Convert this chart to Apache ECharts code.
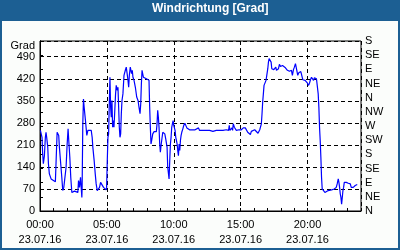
<!DOCTYPE html>
<html>
<head>
<meta charset="utf-8">
<script src="https://cdn.jsdelivr.net/npm/echarts@6/dist/echarts.min.js"></script>
<style>
  html, body { margin: 0; padding: 0; background: #fbfdfb; }
  #chart { width: 400px; height: 250px; }
</style>
</head>
<body>
<div id="chart"></div>
<script>
// Time of day in hours (23.07.16)
const hours = [
  0.03,0.1,0.15,0.2,0.25,0.33,0.4,0.45,0.5,0.58,0.63,0.7,0.83,0.95,1.15,1.2,1.28,1.35,1.4,1.45,
  1.53,1.63,1.7,1.78,1.85,1.95,2.03,2.1,2.15,2.23,2.3,2.38,2.45,2.58,2.7,2.83,2.88,2.95,3.03,3.08,
  3.13,3.15,3.2,3.25,3.3,3.35,3.4,3.5,3.58,3.7,3.83,3.9,3.95,4.05,4.13,4.2,4.28,4.38,4.45,4.53,
  4.63,4.75,4.85,4.95,4.98,5.03,5.08,5.13,5.18,5.23,5.28,5.33,5.38,5.43,5.48,5.53,5.58,5.65,5.7,5.78,
  5.83,5.88,5.93,5.98,6.03,6.08,6.13,6.2,6.28,6.33,6.38,6.45,6.5,6.58,6.63,6.68,6.75,6.8,6.85,6.9,
  6.95,7.03,7.13,7.23,7.33,7.4,7.48,7.53,7.58,7.63,7.68,7.73,7.8,7.95,8.08,8.15,8.2,8.25,8.3,8.35,
  8.43,8.53,8.63,8.7,8.75,8.8,8.85,8.9,8.95,9.0,9.05,9.1,9.18,9.25,9.33,9.4,9.45,9.5,9.55,9.6,
  9.65,9.7,9.75,9.8,9.85,9.9,9.95,10.0,10.05,10.1,10.15,10.2,10.25,10.3,10.35,10.4,10.45,10.5,10.55,10.6,
  10.68,10.75,10.83,10.9,10.98,11.08,11.18,11.28,11.38,11.48,11.6,11.73,11.85,11.93,12.05,12.18,12.3,12.43,12.55,12.68,
  12.8,12.93,13.05,13.18,13.3,13.43,13.55,13.68,13.8,13.93,14.05,14.1,14.15,14.2,14.28,14.35,14.4,14.45,14.53,14.6,
  14.68,14.78,14.88,14.98,15.05,15.13,15.2,15.28,15.35,15.43,15.53,15.63,15.73,15.8,15.93,16.05,16.18,16.3,16.43,16.55,
  16.6,16.65,16.7,16.75,16.83,16.9,16.98,17.03,17.08,17.13,17.18,17.23,17.28,17.33,17.4,17.48,17.55,17.63,17.68,17.75,
  17.83,17.9,17.98,18.05,18.13,18.2,18.27,18.35,18.42,18.5,18.57,18.65,18.72,18.8,18.87,18.95,19.02,19.1,19.15,19.2,
  19.27,19.35,19.42,19.5,19.57,19.65,19.75,19.82,19.87,19.92,20.0,20.07,20.15,20.22,20.3,20.37,20.45,20.52,20.6,20.67,
  20.75,20.8,20.85,20.9,20.95,21.0,21.05,21.1,21.17,21.3,21.42,21.55,21.67,21.8,21.92,22.0,22.07,22.15,22.22,22.3,
  22.35,22.4,22.45,22.5,22.55,22.6,22.65,22.7,22.75,22.82,22.9,22.97,23.05,23.12,23.2,23.27,23.34,23.42,23.49,23.57,
  23.64,23.72
];
// Wind direction [Grad]
const windDir = [
  256,250,234,181,150,176,234,250,234,203,150,118,102,97,93,97,250,245,240,203,
  160,107,65,75,70,139,213,261,224,171,107,59,59,63,63,59,97,75,107,75,
  43,75,277,356,330,330,287,240,256,261,256,234,203,160,118,86,65,65,75,91,
  86,75,70,67,75,160,234,245,340,425,330,298,351,266,287,266,309,372,399,383,
  393,330,266,234,245,309,351,372,431,436,447,457,441,415,393,431,457,447,436,447,
  425,415,393,362,351,330,309,340,404,447,436,425,420,420,420,415,330,266,213,224,
  245,252,252,252,277,320,298,266,213,187,208,213,250,256,245,229,224,203,139,134,
  102,160,213,234,266,277,287,272,266,256,234,224,213,192,176,213,192,224,240,250,
  261,272,279,272,264,261,258,261,258,256,258,261,264,256,253,256,253,256,253,256,
  256,253,256,256,250,256,258,256,256,258,264,256,272,256,250,264,256,277,266,261,
  256,253,258,256,258,261,264,268,264,258,250,245,243,253,258,258,253,247,258,277,
  309,346,372,399,404,415,420,452,473,484,487,480,473,452,455,449,452,457,447,444,
  452,466,459,457,462,459,457,455,452,447,449,444,441,447,431,449,457,468,462,447,
  431,439,436,443,431,417,420,415,409,415,406,399,406,417,425,420,415,423,417,420,
  425,372,330,266,224,171,107,70,65,59,63,65,63,67,65,70,65,75,86,102,
  91,75,54,43,22,43,65,75,91,86,91,97,88,84,86,75,77,75,75,81,
  84,84
];
const timeLabels = ['00:00', '05:00', '10:00', '15:00', '20:00'];
const dateLabel = '23.07.16';
const dirLabels = ['N','NE','E','SE','S','SW','W','NW','N','NE','E','SE','S'];

const chart = echarts.init(document.getElementById('chart'), null, { renderer: 'canvas' });
const font = 'Liberation Sans';
const dash = { color: '#000', type: [4, 3], width: 1 };

chart.setOption({
  animation: false,
  backgroundColor: '#fbfdfb',
  title: {
    text: 'Windrichtung [Grad]',
    left: 152, top: 3, padding: 0,
    textStyle: { color: '#ffffff', fontFamily: font, fontSize: 12, fontWeight: 'bold' }
  },
  graphic: [
    { type: 'rect', z: -1, shape: { x: 0, y: 0, width: 400, height: 21 }, style: { fill: '#1c5f93' } },
    { type: 'rect', z: -1, shape: { x: 1, y: 1, width: 398, height: 248 }, style: { fill: 'none', stroke: '#1c5f93', lineWidth: 2 } }
  ],
  grid: { left: 40, right: 39, top: 41, bottom: 39, show: true, backgroundColor: '#ffffff', borderColor: '#000', borderWidth: 1 },
  xAxis: [
    {
      type: 'value', min: 0, max: 24, interval: 1, position: 'bottom',
      axisLine: { show: true, lineStyle: { color: '#000' } },
      axisTick: { show: true, inside: true, length: 3, lineStyle: { color: '#000' } },
      axisLabel: { show: false },
      splitLine: { show: false }
    },
    {
      type: 'value', min: 0, max: 24, interval: 5, position: 'bottom',
      axisLine: { show: false },
      axisTick: { show: false },
      splitLine: { show: true, lineStyle: dash },
      axisLabel: {
        show: true, margin: 6, color: '#000', fontFamily: font, fontSize: 11, lineHeight: 15,
        formatter: v => (v % 5 === 0 && v < 24) ? timeLabels[v / 5] + '\n' + dateLabel : ''
      }
    }
  ],
  yAxis: [
    {
      type: 'value', min: 0, max: 540, interval: 70, position: 'left',
      name: 'Grad', nameLocation: 'end', nameGap: -5,
      nameTextStyle: { color: '#000', fontFamily: font, fontSize: 11, align: 'right', verticalAlign: 'middle', padding: [0, 5, 0, 0] },
      axisLine: { show: true, lineStyle: { color: '#000' } },
      axisTick: { show: false },
      splitLine: { show: true, lineStyle: dash },
      axisLabel: { color: '#000', fontFamily: font, fontSize: 11, margin: 5, formatter: v => v > 490 ? '' : String(v) }
    },
    {
      type: 'value', min: 0, max: 540, interval: 45, position: 'right',
      axisLine: { show: true, lineStyle: { color: '#000' } },
      axisTick: { show: true, inside: false, length: 3, lineStyle: { color: '#000' } },
      splitLine: { show: false },
      axisLabel: { color: '#000', fontFamily: font, fontSize: 11, margin: 4, formatter: v => dirLabels[Math.round(v / 45)] || '' }
    }
  ],
  series: [{
    type: 'line',
    xAxisIndex: 0, yAxisIndex: 0,
    data: hours.map((h, i) => [h, windDir[i]]),
    showSymbol: false, symbol: 'none',
    lineStyle: { color: '#0000ff', width: 1.2 },
    clip: true
  }]
});
</script>
</body>
</html>
